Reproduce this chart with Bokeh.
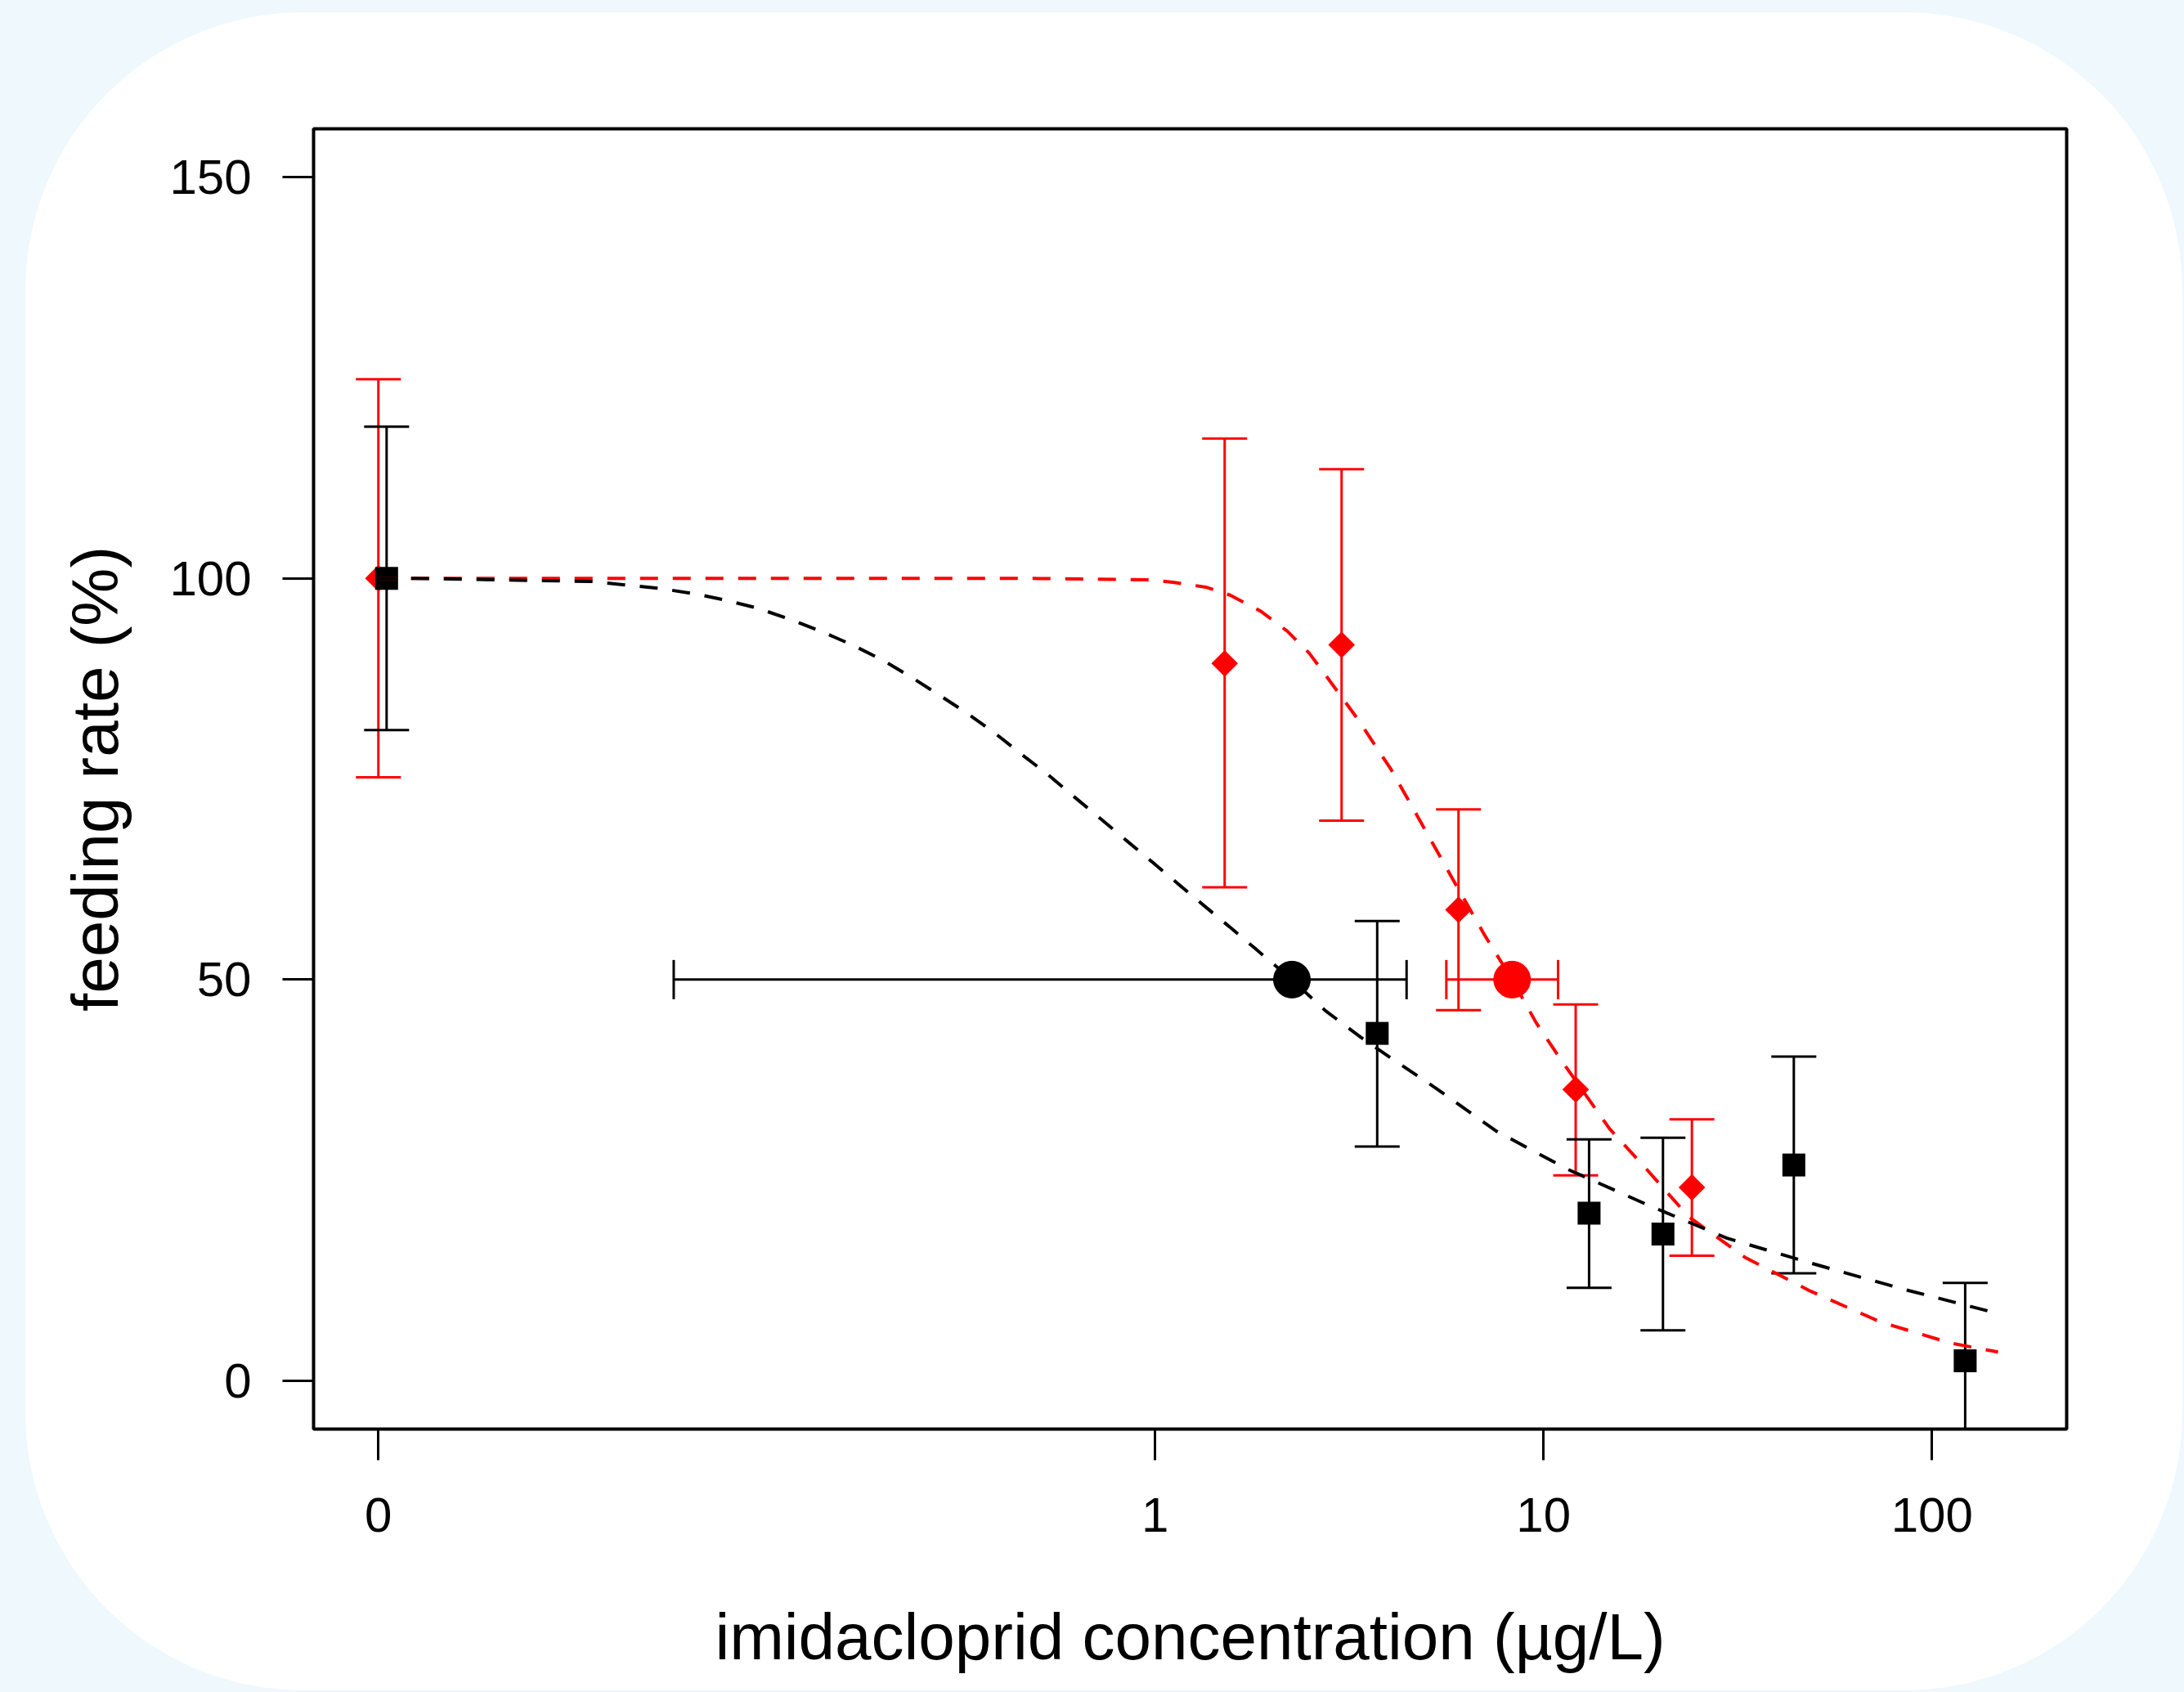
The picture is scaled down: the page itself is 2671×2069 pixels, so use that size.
import numpy as np
from bokeh.plotting import figure
from bokeh.models import FixedTicker
from bokeh.embed import file_html
from bokeh.resources import INLINE

# ---------------- data ----------------
# control (0 µg/L) is drawn at the axis break position 0.01 ("0" tick)
black_conc = [0.0105, 3.73, 13.1, 20.3, 44.1, 121.8]
black_mean = [100.0, 43.3, 20.9, 18.3, 26.9, 2.5]
black_lower = [81.1, 29.2, 11.6, 6.3, 13.4, -7.2]
black_upper = [118.9, 57.3, 30.1, 30.3, 40.4, 12.2]

red_conc = [0.01, 1.51, 3.02, 6.04, 12.1, 24.1]
red_mean = [100.0, 89.4, 91.7, 58.7, 36.3, 24.1]
red_lower = [75.2, 61.5, 69.8, 46.2, 25.6, 15.6]
red_upper = [124.8, 117.4, 113.6, 71.2, 46.9, 32.6]

ec50_level = 50
black_ec50 = [2.25]
black_ec50_lo = [0.0576]
black_ec50_hi = [4.44]
red_ec50 = [8.3]
red_ec50_lo = [5.62]
red_ec50_hi = [10.9]

black_fit_conc = [0.01, 0.0121, 0.0354, 0.0537, 0.0663, 0.0779, 0.0944, 0.1146, 0.138,
                  0.166, 0.199, 0.237, 0.279, 0.330, 0.387, 0.452, 0.531, 0.618,
                  0.721, 0.840, 0.980, 1.141, 1.330, 1.552, 1.807, 2.246, 2.748,
                  3.39, 4.00, 5.27, 7.57, 11.5, 18.4, 29.6, 48.6, 84.9, 148]
black_fit = [100, 100, 99.6, 98.7, 98.0, 97.3, 96.3, 94.9, 93.4,
             91.7, 89.8, 87.6, 85.4, 83.1, 80.7, 78.1, 75.5, 72.8,
             70.1, 67.4, 64.7, 62.0, 59.3, 56.6, 53.9, 50.0, 46.1,
             42.8, 40.4, 36.5, 31.1, 26.4, 22.0, 17.8, 14.7, 11.4, 8.4]

red_fit_conc = [0.01, 0.453, 0.984, 1.11, 1.35, 1.56, 1.87, 2.19, 2.49, 2.76, 3.33,
                4.06, 4.95, 5.84, 7.06, 8.3, 9.58, 11.2, 14.8, 18.4, 23.6, 33.0,
                48.6, 74.1, 112, 148]
red_fit = [100, 100, 99.8, 99.5, 98.9, 97.9, 95.9, 93.4, 90.7, 87.8, 82.4,
           76.1, 68.7, 62.5, 55.5, 50.0, 44.6, 39.7, 31.4, 26.4, 20.5, 15.4,
           11.2, 7.3, 4.7, 3.6]

x_ticks = [0.01, 1, 10, 100]
x_tick_labels = ["0", "1", "10", "100"]
y_ticks = [0, 50, 100, 150]

x_title = "imidacloprid concentration (µg/L)"
y_title = "feeding rate (%)"

# ---------------- figure ----------------
FONT = "Liberation Sans"
RED = "#ff0000"
BLACK = "#000000"

p = figure(width=2638, height=2052, x_axis_type="log",
           x_range=(0.00681, 222.3), y_range=(-6, 156),
           output_backend="svg", toolbar_location=None,
           min_border_left=352, min_border_top=142,
           min_border_right=142, min_border_bottom=320)
p.margin = (15, 0, 0, 31)
p.styles = {"background-color": "white", "border-radius": "340px"}
p.border_fill_color = None
p.background_fill_color = "white"
p.outline_line_color = BLACK
p.outline_line_width = 4
p.grid.visible = False

xa = p.xaxis[0]
ya = p.yaxis[0]
xa.ticker = FixedTicker(ticks=x_ticks, minor_ticks=[])
xa.major_label_overrides = {t: l for t, l in zip(x_ticks, x_tick_labels)}
ya.ticker = FixedTicker(ticks=y_ticks, minor_ticks=[])
for ax in (xa, ya):
    ax.axis_line_color = None
    ax.major_tick_in = 0
    ax.major_tick_out = 38
    ax.minor_tick_in = 0
    ax.minor_tick_out = 0
    ax.major_tick_line_width = 3
    ax.major_tick_line_color = BLACK
    ax.major_label_text_font = FONT
    ax.major_label_text_font_size = "60px"
    ax.major_label_text_color = BLACK
    ax.axis_label_text_font = FONT
    ax.axis_label_text_font_size = "80px"
    ax.axis_label_text_font_style = "normal"
    ax.axis_label_text_color = BLACK
xa.axis_label = x_title
ya.axis_label = y_title
xa.major_label_standoff = 46
xa.axis_label_standoff = 81
ya.major_label_standoff = 38
ya.axis_label_standoff = 43


def vbars(xs, lo, hi, color):
    p.segment(x0=xs, y0=lo, x1=xs, y1=hi, line_color=color, line_width=3)
    p.scatter(xs, lo, marker="dash", size=55, line_color=color, line_width=3)
    p.scatter(xs, hi, marker="dash", size=55, line_color=color, line_width=3)


def hbar(xc, lo, hi, color):
    ys = [ec50_level] * len(xc)
    p.segment(x0=lo, y0=ys, x1=hi, y1=ys, line_color=color, line_width=3)
    p.scatter(lo, ys, marker="dash", angle=np.pi / 2, size=48, line_color=color, line_width=3)
    p.scatter(hi, ys, marker="dash", angle=np.pi / 2, size=48, line_color=color, line_width=3)


# red series
vbars(red_conc, red_lower, red_upper, RED)
p.scatter(red_conc, red_mean, marker="square", angle=np.pi / 4, size=23,
          fill_color=RED, line_color=RED, line_width=0)
# black series
vbars(black_conc, black_lower, black_upper, BLACK)
p.scatter(black_conc, black_mean, marker="square", size=28,
          fill_color=BLACK, line_color=BLACK, line_width=0)

# fitted curves
p.line(red_fit_conc, red_fit, line_color=RED, line_width=4, line_dash="22 18")
p.line(black_fit_conc, black_fit, line_color=BLACK, line_width=4, line_dash="22 18")

# EC50 with confidence intervals
hbar(black_ec50, black_ec50_lo, black_ec50_hi, BLACK)
p.scatter(black_ec50, [ec50_level], marker="circle", size=45, fill_color=BLACK, line_color=BLACK)
hbar(red_ec50, red_ec50_lo, red_ec50_hi, RED)
p.scatter(red_ec50, [ec50_level], marker="circle", size=45, fill_color=RED, line_color=RED)

html = file_html(p, INLINE, title="feeding rate")
html = html.replace("</head>", "<style>html, body { background-color: #eef8fd; }</style></head>", 1)
open("out.html", "w").write(html)
